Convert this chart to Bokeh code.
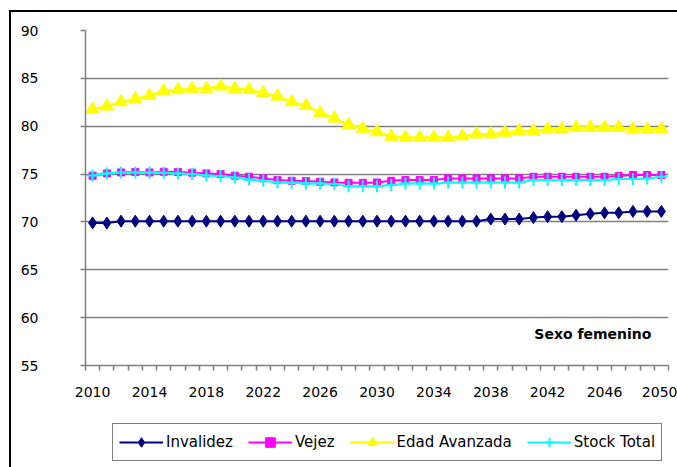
from bokeh.plotting import figure
from bokeh.layouts import column
from bokeh.models import FixedTicker, Legend, LegendItem, Range1d, ColumnDataSource
from bokeh.core.properties import value
from bokeh.embed import file_html
from bokeh.resources import INLINE

# ---------------- data ----------------
years = list(range(2010, 2051))
tick_years = [2010, 2014, 2018, 2022, 2026, 2030, 2034, 2038, 2042, 2046, 2050]
y_ticks = [55, 60, 65, 70, 75, 80, 85, 90]

invalidez = [69.9, 69.88, 70.08, 70.08, 70.08, 70.08, 70.08, 70.08, 70.08, 70.08,
             70.08, 70.08, 70.08, 70.08, 70.08, 70.08, 70.08, 70.08, 70.08, 70.08,
             70.08, 70.08, 70.08, 70.08, 70.08, 70.08, 70.08, 70.08, 70.3, 70.3,
             70.3, 70.45, 70.55, 70.55, 70.7, 70.85, 70.95, 70.95, 71.1, 71.1, 71.1]

vejez = [74.83, 75.07, 75.17, 75.21, 75.17, 75.24, 75.21, 75.14, 75.07, 75.0,
         74.83, 74.72, 74.55, 74.37, 74.30, 74.27, 74.2, 74.13, 74.09, 74.09,
         74.12, 74.30, 74.37, 74.37, 74.37, 74.55, 74.55, 74.55, 74.55, 74.55,
         74.55, 74.72, 74.72, 74.72, 74.72, 74.72, 74.72, 74.79, 74.9, 74.9, 74.9]

edad_avanzada = [81.77, 82.08, 82.53, 82.85, 83.2, 83.68, 83.79, 83.93, 83.93, 84.17,
                 83.93, 83.8, 83.47, 83.12, 82.53, 82.15, 81.39, 80.83, 80.14, 79.76,
                 79.4, 78.92, 78.82, 78.82, 78.82, 78.82, 78.96, 79.17, 79.17, 79.34,
                 79.51, 79.51, 79.69, 79.69, 79.86, 79.86, 79.86, 79.86, 79.69, 79.69, 79.69]

stock_total = [74.86, 75.07, 75.17, 75.17, 75.17, 75.14, 75.07, 75.0, 74.86, 74.79,
               74.65, 74.44, 74.30, 74.13, 74.09, 74.02, 74.02, 73.95, 73.74, 73.74,
               73.74, 73.85, 74.02, 74.02, 74.02, 74.13, 74.13, 74.13, 74.13, 74.13,
               74.13, 74.37, 74.37, 74.37, 74.37, 74.37, 74.37, 74.48, 74.48, 74.55, 74.72]

series_names = ["Invalidez", "Vejez", "Edad Avanzada", "Stock Total"]
note_text = "Sexo femenino"

# ---------------- styles ----------------
FONT = "DejaVu Sans"
GRAY = "#808080"
styles = [
    dict(color="#000080", marker="diamond", size=12, line_width=2),
    dict(color="#FF00FF", marker="square", size=7, line_width=2),
    dict(color="#FFFF00", marker="triangle", size=13, line_width=2.5),
    dict(color="#00FFFF", marker="cross", size=12, line_width=2),
]
series = [invalidez, vejez, edad_avanzada, stock_total]


def add_series(fig, source, ycol, st):
    rl = fig.line("x", ycol, source=source, line_color=st["color"],
                  line_width=st["line_width"])
    if st["marker"] == "cross":
        rm = fig.scatter("x", ycol, source=source, marker="cross", size=st["size"],
                         line_color=st["color"], line_width=2)
    else:
        rm = fig.scatter("x", ycol, source=source, marker=st["marker"],
                         size=st["size"], fill_color=st["color"],
                         line_color=st["color"])
    return rl, rm


# ---------------- main chart ----------------
p = figure(width=666, height=398, output_backend="svg", toolbar_location=None,
           x_range=Range1d(2009.5, 2050.5), y_range=Range1d(55, 90),
           min_border_left=74, min_border_right=9, min_border_top=18,
           min_border_bottom=45)
p.outline_line_color = None
p.background_fill_color = "white"
p.border_fill_color = "white"

p.xaxis.ticker = FixedTicker(ticks=tick_years,
                             minor_ticks=[y - 0.5 for y in years] + [years[-1] + 0.5])
p.xaxis.major_tick_out = 0
p.xaxis.major_tick_in = 0
p.xaxis.minor_tick_out = 5
p.xaxis.minor_tick_in = 0
p.xaxis.minor_tick_line_color = GRAY
p.xaxis.minor_tick_line_width = 1.5
p.xaxis.axis_line_color = GRAY
p.xaxis.axis_line_width = 1.5
p.xaxis.major_label_text_font = FONT
p.xaxis.major_label_text_font_size = "14px"
p.xaxis.major_label_text_color = "black"
p.xaxis.major_label_standoff = 16

p.yaxis.ticker = FixedTicker(ticks=y_ticks)
p.yaxis.major_tick_out = 5
p.yaxis.major_tick_in = 0
p.yaxis.minor_tick_line_color = None
p.yaxis.major_tick_line_color = GRAY
p.yaxis.major_tick_line_width = 1.5
p.yaxis.axis_line_color = GRAY
p.yaxis.axis_line_width = 1.5
p.yaxis.major_label_text_font = FONT
p.yaxis.major_label_text_font_size = "14px"
p.yaxis.major_label_text_color = "black"
p.yaxis.major_label_standoff = 42

p.xgrid.grid_line_color = None
p.ygrid.ticker = FixedTicker(ticks=[t for t in y_ticks if 55 < t < 90])
p.ygrid.grid_line_color = GRAY
p.ygrid.grid_line_width = 1.5

src = ColumnDataSource(dict(x=years, s0=invalidez, s1=vejez,
                            s2=edad_avanzada, s3=stock_total))
for i, st in enumerate(styles):
    add_series(p, src, f"s{i}", st)

p.text(x=[2049.3], y=[58.3], text=[note_text], text_font=value(FONT),
       text_font_style="bold", text_font_size="14px", text_align="right",
       text_baseline="middle", text_color="black")

# ---------------- legend strip ----------------
# same series, but its ranges keep every mark out of view: only the legend shows
leg = figure(width=666, height=57, output_backend="svg", toolbar_location=None,
             x_range=Range1d(0, 1), y_range=Range1d(0, 1),
             x_axis_location=None, y_axis_location=None,
             min_border_left=0, min_border_right=0, min_border_top=0,
             min_border_bottom=0)
leg.outline_line_color = None
leg.grid.visible = False
leg.background_fill_color = "white"
leg.border_fill_color = "white"

items = []
for i, (name, st) in enumerate(zip(series_names, styles)):
    rl, rm = add_series(leg, src, f"s{i}", st)
    items.append(LegendItem(label=name, renderers=[rl, rm]))

legend = Legend(items=items, orientation="horizontal", location=(27, 6))
legend.border_line_color = "black"
legend.border_line_width = 1.5
legend.background_fill_color = "white"
legend.background_fill_alpha = 1
legend.padding = 6
legend.margin = 0
legend.spacing = 15
legend.glyph_width = 44
legend.glyph_height = 24
legend.label_height = 24
legend.label_standoff = 3
legend.label_text_font = FONT
legend.label_text_font_size = "15px"
legend.label_text_color = "black"
leg.add_layout(legend)

layout = column(p, leg, spacing=0,
                styles={"border-left": "2px solid #000000",
                        "border-top": "2px solid #000000",
                        "margin-left": "9px", "margin-top": "10px"})

open("out.html", "w").write(file_html(layout, INLINE))
